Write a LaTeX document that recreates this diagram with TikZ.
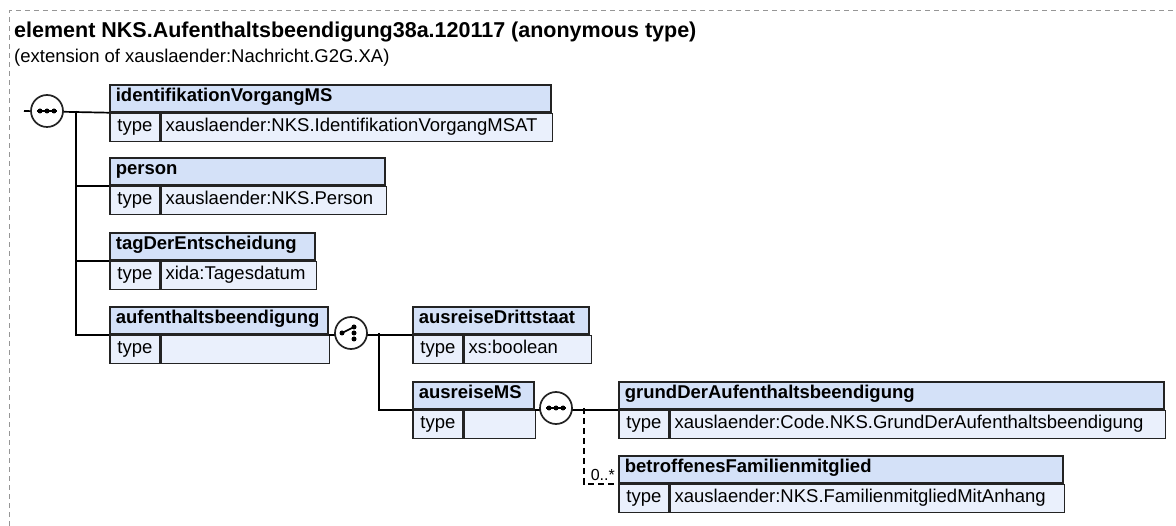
\documentclass[tikz,border=0pt]{standalone}
\usepackage{fontspec}
\setmainfont{Liberation Sans}
\usepackage{xcolor}
\usetikzlibrary{positioning}
\definecolor{hdrfill}{RGB}{212,225,248}
\definecolor{typefill}{RGB}{234,240,252}
\definecolor{boxline}{RGB}{35,35,35}
\definecolor{framegray}{RGB}{150,150,150}
\tikzset{
  elemhdr/.style={
    draw=boxline, line width=1.7pt, fill=hdrfill,
    anchor=north west, align=left,
    minimum height=27pt, inner xsep=6pt, inner ysep=0pt,
    text height=12pt, text depth=5pt,
    font=\fontsize{18.5}{22}\selectfont\bfseries
  },
  typelbl/.style={
    draw=boxline, line width=1.7pt, fill=typefill,
    anchor=north west,
    minimum height=28pt, minimum width=50pt, inner xsep=6pt, inner ysep=0pt,
    text height=12pt, text depth=5pt,
    font=\fontsize{18.5}{22}\selectfont
  },
  typeval/.style={typelbl, minimum width=0pt, inner xsep=4pt, align=left},
  compositor/.style={circle, draw=boxline, line width=1.7pt, fill=white,
    minimum size=32pt, inner sep=0pt},
  conn/.style={line width=1.7pt, draw=black},
  optconn/.style={conn, dash pattern=on 6pt off 4pt},
  frameline/.style={draw=framegray, line width=1pt, dash pattern=on 5pt off 4pt},
  cardlabel/.style={anchor=base east, inner sep=0pt, font=\fontsize{16}{18}\selectfont}
}

\begin{document}
\begin{tikzpicture}[x=1pt, y=-1pt]
\useasboundingbox (0,0) rectangle (1176,526);

% ---- frame and heading ----
\draw[frameline] (9,526) -- (9,11) -- (1176,11);
\node[anchor=base west, inner sep=0pt, font=\fontsize{21.5}{24}\selectfont\bfseries]
  (title) at (14,38) {element NKS.Aufenthaltsbeendigung38a.120117 (anonymous type)};
\node[anchor=base west, inner sep=0pt, font=\fontsize{18.5}{22}\selectfont]
  (subtitle) at (14,63) {(extension of xauslaender:Nachricht.G2G.XA)};

% ---- first level ----
\node[elemhdr, text width=429pt] (ident) at (109,84) {identifikationVorgangMS};
\node[typelbl] (ident-t) at (ident.south west) {type};
\node[typeval, text width=383pt] (ident-v) at (ident-t.north east) {xauslaender:NKS.IdentifikationVorgangMSAT};

\node[elemhdr, text width=263pt] (person) at (109,157) {person};
\node[typelbl] (person-t) at (person.south west) {type};
\node[typeval, text width=217pt] (person-v) at (person-t.north east) {xauslaender:NKS.Person};

\node[elemhdr, text width=193pt] (tag) at (109,232) {tagDerEntscheidung};
\node[typelbl] (tag-t) at (tag.south west) {type};
\node[typeval, text width=147pt] (tag-v) at (tag-t.north east) {xida:Tagesdatum};

\node[elemhdr, text width=206pt] (aufent) at (109,306) {aufenthaltsbeendigung};
\node[typelbl] (aufent-t) at (aufent.south west) {type};
\node[typeval, text width=160pt] (aufent-v) at (aufent-t.north east) {};

% ---- second level ----
\node[elemhdr, text width=164pt] (dritt) at (412,306) {ausreiseDrittstaat};
\node[typelbl] (dritt-t) at (dritt.south west) {type};
\node[typeval, text width=119pt] (dritt-v) at (dritt-t.north east) {xs:boolean};

\node[elemhdr, text width=109pt] (ausms) at (412,381) {ausreiseMS};
\node[typelbl] (ausms-t) at (ausms.south west) {type};
\node[typeval, text width=63pt] (ausms-v) at (ausms-t.north east) {};

% ---- third level ----
\node[elemhdr, text width=533pt] (grund) at (618,381) {grundDerAufenthaltsbeendigung};
\node[typelbl] (grund-t) at (grund.south west) {type};
\node[typeval, text width=487pt] (grund-v) at (grund-t.north east) {xauslaender:Code.NKS.GrundDerAufenthaltsbeendigung};

\node[elemhdr, text width=432pt] (betr) at (618,455) {betroffenesFamilienmitglied};
\node[typelbl] (betr-t) at (betr.south west) {type};
\node[typeval, text width=386pt] (betr-v) at (betr-t.north east) {xauslaender:NKS.FamilienmitgliedMitAnhang};

% ---- compositors ----
\coordinate (rootA) at (24,111);
\coordinate (trunkA) at (76,111);
\coordinate (trunkB) at (379,333);
\coordinate (optB) at (584,408);

\draw[conn] (rootA) -- (ident.south west);
\draw[conn] (trunkA) |- (person.south west);
\draw[conn] (trunkA) |- (tag.south west);
\draw[conn] (trunkA) |- (aufent.south west);
\draw[conn] (aufent.south east) -- (dritt.south west);
\draw[conn] (trunkB) |- (ausms.south west);
\draw[conn] (ausms.south east) -- (grund.south west);
\draw[optconn] (optB) |- (betr.south west);
\node[cardlabel] (betr-card) at ([xshift=-3pt, yshift=3pt]betr.south west) {0..*};

\node[compositor] (seqA) at (47,111) {};
\node[compositor] (choiceA) at (351,333) {};
\node[compositor] (seqB) at (556,408) {};

% sequence marks
\foreach \c in {seqA, seqB} {
  \draw[line width=1.6pt] ([xshift=-10pt]\c.center) -- ([xshift=10pt]\c.center);
  \foreach \dx in {-7,0,7}
    \fill ([xshift=\dx pt]\c.center) circle (2.5pt);
}
% choice mark
\draw[line width=1.6pt] ([xshift=-9pt]choiceA.center) -- ([xshift=3pt, yshift=6pt]choiceA.center);
\fill ([xshift=-9pt]choiceA.center) circle (2.5pt);
\foreach \dy in {6,0,-6}
  \fill ([xshift=3pt, yshift=\dy pt]choiceA.center) circle (2.5pt);

\end{tikzpicture}
\end{document}
